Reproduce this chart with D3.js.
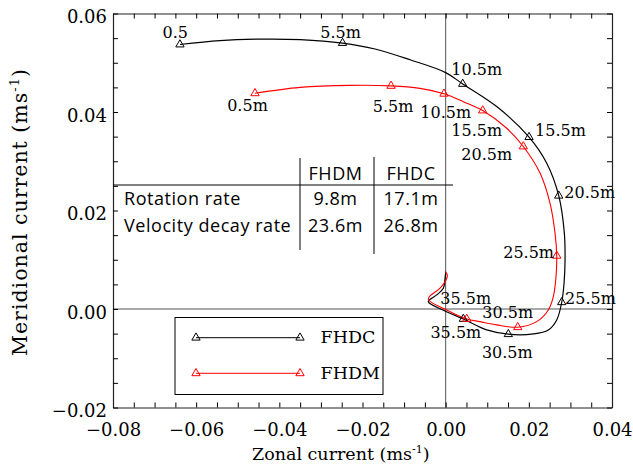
<!DOCTYPE html>
<html>
<head>
<meta charset="utf-8">
<script src="https://cdn.jsdelivr.net/npm/d3@7"></script>
<style>
  html, body { margin: 0; padding: 0; background: #fff; }
  svg { display: block; }
</style>
</head>
<body>
<svg id="chart" width="633" height="465"></svg>
<script>
// ---------- data ----------
// FHDC (black) hodograph path: zonal (u) and meridional (v) current, m/s
const fhdcU = [-0.0639, -0.0543, -0.0446, -0.0350, -0.0248, -0.0170, -0.00857, 0.0000, 0.0041, 0.01228, 0.02005, 0.02431, 0.02719, 0.02854, 0.02871, 0.02847, 0.02791, 0.02671, 0.02469, 0.02108, 0.01507, 0.00988, 0.00425, -0.00015, -0.00417, -0.00215, -0.00056, -0.00015, 0.00002];
const fhdcV = [0.0537, 0.0545, 0.0548, 0.0547, 0.0540, 0.0528, 0.0506, 0.0480, 0.0457, 0.0411, 0.0349, 0.0296, 0.0230, 0.0154, 0.0100, 0.00523, 0.00137, -0.00222, -0.00425, -0.00506, -0.00512, -0.00425, -0.00202, -0.00039, 0.00150, 0.00286, 0.00422, 0.00625, 0.00759];
// FHDM (red) hodograph path
const fhdmU = [-0.04585, -0.03503, -0.0230, -0.01314, -0.00617, -0.00040, 0.00425, 0.00891, 0.01468, 0.01867, 0.02269, 0.02509, 0.02630, 0.02671, 0.02654, 0.02589, 0.02469, 0.02190, 0.01733, 0.01228, 0.00826, 0.00507, 0.00026, -0.00417, -0.00136, 0.00009, 0.00040, -0.00015];
const fhdmV = [0.0438, 0.0450, 0.0454, 0.0453, 0.0448, 0.0437, 0.0421, 0.0403, 0.0367, 0.0330, 0.0276, 0.0215, 0.0154, 0.0108, 0.00657, 0.00251, -0.00019, -0.00256, -0.00370, -0.00323, -0.00256, -0.00202, -0.00019, 0.00204, 0.00422, 0.00590, 0.00692, 0.00759];
// time-marker points (index into path) and their labels
const fhdcMarkIdx = [0, 4, 8, 10, 12, 16, 20, 22];
const fhdcLabels = ["0.5", "5.5m", "10.5m", "15.5m", "20.5m", "25.5m", "30.5m", "35.5m"];
const fhdmMarkIdx = [0, 3, 5, 7, 9, 13, 18, 21];
const fhdmLabels = ["0.5m", "5.5m", "10.5m", "15.5m", "20.5m", "25.5m", "30.5m", "35.5m"];
// axis ticks
const xTicks = [-0.08, -0.06, -0.04, -0.02, 0.00, 0.02, 0.04];
const yTicks = [-0.02, 0.00, 0.02, 0.04, 0.06];
// inset table
const tableCols = ["FHDM", "FHDC"];
const tableRows = ["Rotation rate", "Velocity decay rate"];
const tableFHDM = ["9.8m", "23.6m"];
const tableFHDC = ["17.1m", "26.8m"];
const legendNames = ["FHDC", "FHDM"];

// ---------- layout / style ----------
const W = 633, H = 465;
const L = 113, R = 612, T = 13.5, B = 407.5;
const BLACK = "#000", RED = "#ff0000";
const serif = "'DejaVu Serif', serif";
const sans = "'Open Sans', sans-serif";
// label offsets [anchor, dx, dy] relative to marker (pixels)
const fhdcLabelPos = [["middle",-4.7,-6.2],["middle",-2,-5],["middle",14,-9],["start",6,-1.3],["start",5.6,2.3],["start",3.3,2],["middle",-1,24],["middle",-7.5,19.3]];
const fhdmLabelPos = [["middle",-7.5,17.7],["middle",2,25.7],["middle",1.7,24.3],["middle",-6,25.3],["middle",-36.6,13.3],["end",-2.7,2.3],["middle",-10,-9],["middle",-1,-14.7]];

const svg = d3.select("#chart");
svg.append("rect").attr("width", W).attr("height", H).attr("fill", "#fff");

const x = d3.scaleLinear().domain([-0.08, 0.04]).range([L, R]);
const y = d3.scaleLinear().domain([-0.02, 0.06]).range([B, T]);

const minorX = d3.range(-0.08, 0.04001, 0.005);
const minorY = d3.range(-0.02, 0.06001, 0.005);
const fmt = d3.format(".2f");

// zero lines
svg.append("line").attr("x1", x(0)).attr("x2", x(0)).attr("y1", T).attr("y2", B)
  .attr("stroke", "#555").attr("stroke-width", 1);
svg.append("line").attr("x1", L).attr("x2", R).attr("y1", y(0)).attr("y2", y(0))
  .attr("stroke", "#555").attr("stroke-width", 1);

// axes
function styleAxis(g) {
  g.selectAll("path.domain").attr("stroke", "#222").attr("stroke-width", 1.2);
  g.selectAll(".tick line").attr("stroke", "#000").attr("stroke-width", 1);
}
const gB = svg.append("g").attr("transform", `translate(0,${B})`)
  .call(d3.axisBottom(x).tickValues(minorX).tickSize(-5).tickSizeOuter(0).tickFormat(""));
styleAxis(gB);
const gBL = svg.append("g").attr("transform", `translate(0,${B})`)
  .call(d3.axisBottom(x).tickValues(xTicks).tickSize(0).tickSizeOuter(0).tickPadding(16).tickFormat(fmt));
gBL.select("path.domain").remove();
gBL.selectAll("text").attr("font-family", serif).attr("font-size", 18).attr("fill", "#000");

const gT = svg.append("g").attr("transform", `translate(0,${T})`)
  .call(d3.axisTop(x).tickValues(minorX).tickSize(-5).tickSizeOuter(0).tickFormat(""));
styleAxis(gT);

const gL = svg.append("g").attr("transform", `translate(${L},0)`)
  .call(d3.axisLeft(y).tickValues(minorY).tickSize(-5).tickSizeOuter(0).tickFormat(""));
styleAxis(gL);
const gLL = svg.append("g").attr("transform", `translate(${L},0)`)
  .call(d3.axisLeft(y).tickValues(yTicks).tickSize(0).tickSizeOuter(0).tickPadding(6).tickFormat(fmt));
gLL.select("path.domain").remove();
gLL.selectAll("text").attr("font-family", serif).attr("font-size", 18).attr("fill", "#000").attr("dy", "0.5em");

const gR = svg.append("g").attr("transform", `translate(${R},0)`)
  .call(d3.axisRight(y).tickValues(minorY).tickSize(-5).tickSizeOuter(0).tickFormat(""));
styleAxis(gR);

// axis titles
const xt = svg.append("text").attr("x", 252).attr("y", 460)
  .attr("font-family", serif).attr("font-size", 17.5).attr("fill", "#000");
xt.append("tspan").text("Zonal current (ms");
xt.append("tspan").text("-1").attr("font-size", 11).attr("dy", -7);
xt.append("tspan").text(")").attr("dy", 7);

const yt = svg.append("text").attr("transform", `translate(27,212) rotate(-90)`)
  .attr("text-anchor", "middle").attr("letter-spacing", 1)
  .attr("font-family", serif).attr("font-size", 20.5).attr("fill", "#000");
yt.append("tspan").text("Meridional current (ms");
yt.append("tspan").text("-1").attr("font-size", 13).attr("dy", -8);
yt.append("tspan").text(")").attr("dy", 8);

// inset table
svg.append("line").attr("x1", L).attr("x2", 453).attr("y1", 185).attr("y2", 185).attr("stroke", "#000");
svg.append("line").attr("x1", 300).attr("x2", 300).attr("y1", 158).attr("y2", 250).attr("stroke", "#000");
svg.append("line").attr("x1", 374).attr("x2", 374).attr("y1", 157).attr("y2", 254).attr("stroke", "#000");
const tbl = svg.append("g").attr("font-family", sans).attr("font-size", 18).attr("letter-spacing", 0.55).attr("fill", "#000");
const colX = [335.5, 411];
tableCols.forEach((c, i) => tbl.append("text").attr("x", colX[i]).attr("y", 180).attr("text-anchor", "middle").text(c));
const rowY = [205, 231.5];
tableRows.forEach((r, i) => {
  tbl.append("text").attr("x", 124).attr("y", rowY[i]).text(r);
  tbl.append("text").attr("x", colX[0]).attr("y", rowY[i]).attr("text-anchor", "middle").text(tableFHDM[i]);
  tbl.append("text").attr("x", colX[1]).attr("y", rowY[i]).attr("text-anchor", "middle").text(tableFHDC[i]);
});

// curves
const line = d3.line().x(d => x(d[0])).y(d => y(d[1])).curve(d3.curveCatmullRom.alpha(0.5));
const fhdc = fhdcU.map((u, i) => [u, fhdcV[i]]);
const fhdm = fhdmU.map((u, i) => [u, fhdmV[i]]);
svg.append("path").datum(fhdc).attr("d", line).attr("fill", "none").attr("stroke", BLACK).attr("stroke-width", 1.2);
svg.append("path").datum(fhdm).attr("d", line).attr("fill", "none").attr("stroke", RED).attr("stroke-width", 1.1);

const tri = d3.symbol().type(d3.symbolTriangle).size(30);
function markers(pts, idx, labels, pos, color) {
  const g = svg.append("g");
  idx.forEach((k, i) => {
    const px = x(pts[k][0]), py = y(pts[k][1]);
    g.append("path").attr("d", tri).attr("transform", `translate(${px},${py})`)
      .attr("fill", "none").attr("stroke", color).attr("stroke-width", 1);
    const p = pos[i];
    g.append("text").attr("x", px + p[1]).attr("y", py + p[2]).attr("text-anchor", p[0])
      .attr("font-family", serif).attr("font-size", 16).attr("fill", "#000").text(labels[i]);
  });
}
markers(fhdc, fhdcMarkIdx, fhdcLabels, fhdcLabelPos, BLACK);
markers(fhdm, fhdmMarkIdx, fhdmLabels, fhdmLabelPos, RED);

// legend
const lg = svg.append("g");
lg.append("rect").attr("x", 175).attr("y", 317.5).attr("width", 208).attr("height", 77)
  .attr("fill", "#fff").attr("stroke", "#000").attr("stroke-width", 1);
const legColors = [BLACK, RED];
const legY = [337.7, 373.3];
legendNames.forEach((n, i) => {
  lg.append("line").attr("x1", 196).attr("x2", 300).attr("y1", legY[i]).attr("y2", legY[i])
    .attr("stroke", legColors[i]).attr("stroke-width", 1);
  [196, 300].forEach(px => lg.append("path").attr("d", tri).attr("transform", `translate(${px},${legY[i]})`)
    .attr("fill", "none").attr("stroke", legColors[i]).attr("stroke-width", 1));
  lg.append("text").attr("x", 320.5).attr("y", legY[i] + 5.5).attr("font-family", serif)
    .attr("font-size", 17.5).attr("fill", "#000").text(n);
});
</script>
</body>
</html>
